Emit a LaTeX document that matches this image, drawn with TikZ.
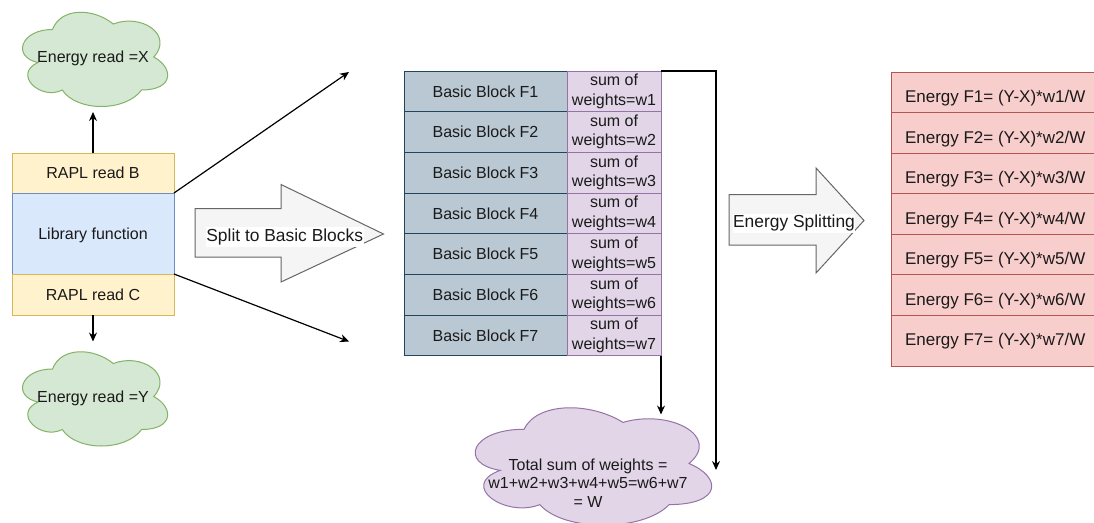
\documentclass[tikz,border=0pt]{standalone}
\usepackage{fontspec}
\setmainfont{Liberation Sans}
\usetikzlibrary{arrows.meta}
\definecolor{yelF}{HTML}{FFF2CC}\definecolor{yelS}{HTML}{D6B656}
\definecolor{bluF}{HTML}{DAE8FC}\definecolor{bluS}{HTML}{6C8EBF}
\definecolor{grnF}{HTML}{D5E8D4}\definecolor{grnS}{HTML}{82B366}
\definecolor{bgF}{HTML}{BAC8D3}\definecolor{bgS}{HTML}{23445D}
\definecolor{purF}{HTML}{E1D5E7}\definecolor{purS}{HTML}{9673A6}
\definecolor{redF}{HTML}{F8CECC}\definecolor{redS}{HTML}{B85450}
\definecolor{arrF}{HTML}{F5F5F5}\definecolor{arrS}{HTML}{666666}
\definecolor{txt}{HTML}{1A1A1A}
% draw.io cloud outline inside box x,y,w,h (y downward)
\newcommand{\drawiocloud}[5]{%
\draw[#5] ({#1+0.25*#3},{#2+0.25*#4})
 .. controls ({#1+0.05*#3},{#2+0.25*#4}) and ({#1},{#2+0.5*#4}) .. ({#1+0.16*#3},{#2+0.55*#4})
 .. controls ({#1},{#2+0.66*#4}) and ({#1+0.18*#3},{#2+0.9*#4}) .. ({#1+0.31*#3},{#2+0.8*#4})
 .. controls ({#1+0.4*#3},{#2+#4}) and ({#1+0.7*#3},{#2+#4}) .. ({#1+0.8*#3},{#2+0.8*#4})
 .. controls ({#1+#3},{#2+0.8*#4}) and ({#1+#3},{#2+0.6*#4}) .. ({#1+0.875*#3},{#2+0.5*#4})
 .. controls ({#1+#3},{#2+0.3*#4}) and ({#1+0.8*#3},{#2+0.1*#4}) .. ({#1+0.625*#3},{#2+0.2*#4})
 .. controls ({#1+0.5*#3},{#2+0.05*#4}) and ({#1+0.3*#3},{#2+0.05*#4}) .. cycle;}
\begin{document}
\begin{tikzpicture}[x=1pt,y=-1pt,
  every node/.style={inner sep=0pt, outer sep=0pt, text=txt},
  fs/.style={font=\fontsize{16}{19.5}\selectfont},
  fl/.style={font=\fontsize{17.4}{20.8}\selectfont},
  fr/.style={font=\fontsize{17}{20.4}\selectfont},
  one/.style={text height=11.5pt, text depth=0pt},
  cell/.style={draw, line width=1pt, anchor=north west, fs},
  yelbox/.style={cell, fill=yelF, draw=yelS, minimum width=162pt, one},
  blubox/.style={cell, fill=bluF, draw=bluS, minimum width=162pt, one},
  bgbox/.style={cell, fill=bgF, draw=bgS, minimum width=163pt, minimum height=40.7pt, one},
  purbox/.style={cell, fill=purF, draw=purS, minimum width=94pt, minimum height=40.7pt, align=center},
  redbox/.style={cell, fill=redF, draw=redS, minimum width=230pt},
  cloudline/.style={line width=1pt},
  arrshape/.style={fill=arrF, draw=arrS, line width=1pt, line join=miter},
  albl/.style={fl, fill=white, text height=12.5pt, text depth=3.8pt, inner xsep=0.5pt, inner ysep=1.5pt},
  conn/.style={line width=1.2pt, draw=black, -{Stealth[length=9pt,width=8pt]}},
]
\useasboundingbox (0,0) rectangle (1094,522);
\clip (0,0) rectangle (1094,522);

% left stack
\node[yelbox, minimum height=40pt] (rb) at (12,153) {RAPL read B};
\node[blubox, minimum height=81pt] (lib) at (12,193) {Library function};
\node[yelbox, minimum height=41pt] (rc) at (12,274) {RAPL read C};

% clouds X and Y
\drawiocloud{12}{2}{162}{110}{cloudline, fill=grnF, draw=grnS}
\node[fs, one, minimum width=162pt, minimum height=110pt] (ex) at (93,57) {Energy read =X};
\drawiocloud{12}{341.5}{162}{110}{cloudline, fill=grnF, draw=grnS}
\node[fs, one, minimum width=162pt, minimum height=110pt] (ey) at (93,396.5) {Energy read =Y};

\draw[conn] (rb.north) -- (ex.south);
\draw[conn] (rc.south) -- (ey.north);

\coordinate (d1) at (349,72);
\coordinate (d2) at (349,341.5);
\draw[conn] (lib.north east) -- (d1);
\draw[conn] (lib.south east) -- (d2);

% split arrow
\draw[arrshape] (195,208.5) -- (281,208.5) -- (281,184.5) -- (383.5,234) -- (281,282) -- (281,257) -- (195,257) -- cycle;
\node[albl] (split) at (284.7,236.9) {Split to Basic Blocks};

% basic blocks
\foreach \i in {1,...,7}{
  \pgfmathsetmacro{\ty}{71+40.71*(\i-1)}
  \node[bgbox] (b\i) at (404,\ty) {Basic Block F\i};
  \node[purbox] (w\i) at (567,\ty) {sum of\\weights=w\i};
}

% total cloud
\drawiocloud{458}{395}{264}{137}{cloudline, fill=purF, draw=purS}
\node[fs, align=center, font=\fontsize{16}{18.5}\selectfont] (tot) at (588,483) {Total sum of weights =\\w1+w2+w3+w4+w5=w6+w7\\= W};

\coordinate (tin) at (661,414.5);
\draw[conn] (w7.south east) -- (tin);
\coordinate (rt) at (716,470);
\draw[conn] (w1.north east) -| (rt);

% energy splitting arrow
\draw[arrshape] (729,194.5) -- (816,194.5) -- (816,168) -- (864,220.5) -- (816,273) -- (816,245) -- (729,245) -- cycle;
\node[albl] (esplit) at (794,223.6) {Energy Splitting};

% energy table
\foreach \i in {1,...,6}{
  \pgfmathsetmacro{\ty}{72+40.5*(\i-1)}
  \node[redbox, minimum height=40.5pt] (r\i) at (891,\ty) {};
}
\node[redbox, minimum height=51pt] (r7) at (891,315) {};
\foreach \i in {1,...,7}{
  \pgfmathsetmacro{\ty}{96.5+40.55*(\i-1)}
  \node[fr, text height=12.2pt, text depth=0pt, anchor=west] (e\i) at (905,\ty) {Energy F\i= (Y-X)*w\i/W};
}
\end{tikzpicture}
\end{document}
